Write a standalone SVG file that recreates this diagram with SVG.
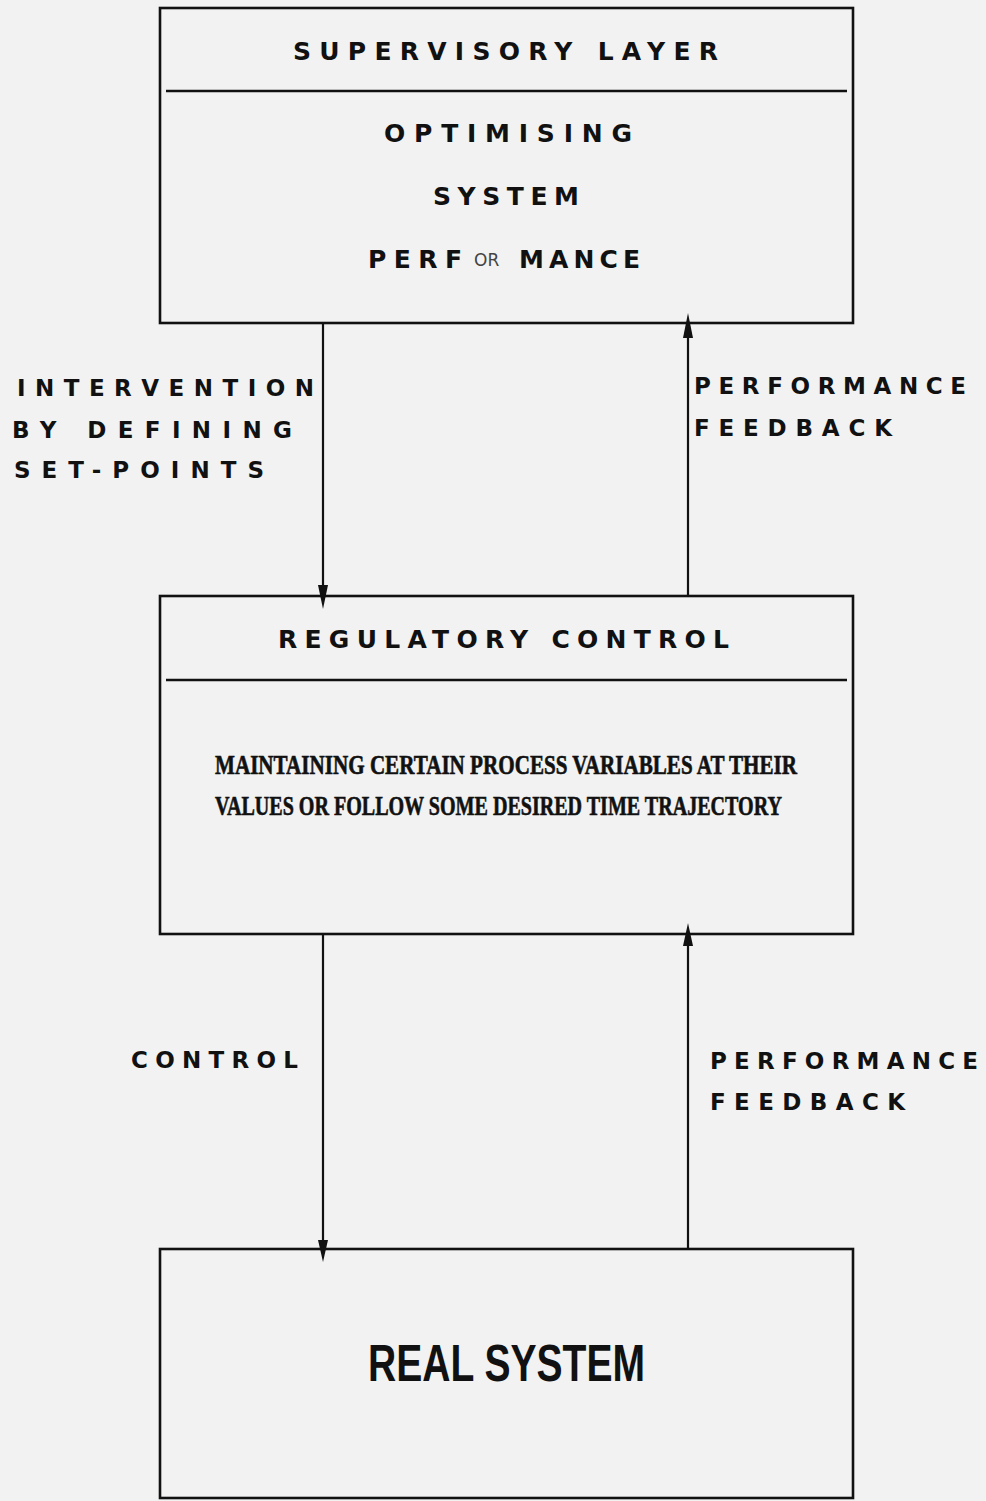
<svg xmlns="http://www.w3.org/2000/svg" width="986" height="1501" viewBox="0 0 986 1501">
<style>
.box{fill:none;stroke:#111;stroke-width:2.6}
.div{stroke:#111;stroke-width:2.6}
.con{stroke:#111;stroke-width:2.2;fill:none}
.head{fill:#111}
.mono{font-family:"DejaVu Sans","Liberation Sans",sans-serif;font-weight:bold;fill:#111}
.big{font-size:25px}
.sm{font-size:23px}
.desc{font-family:"Liberation Serif","DejaVu Serif",serif;font-weight:bold;font-size:27px;fill:#111;stroke:#111;stroke-width:0.6}
.real{font-family:"Liberation Sans","DejaVu Sans",sans-serif;font-weight:bold;font-size:52px;fill:#111}
.hand{font-family:"DejaVu Sans","Liberation Sans",sans-serif;font-weight:normal;font-size:17px;fill:#444}
</style>
<rect x="0" y="0" width="986" height="1501" fill="#f2f2f2"/>
<g id="supervisory">
<rect class="box" x="160" y="8" width="693" height="315"/>
<line class="div" x1="166" y1="91" x2="847" y2="91"/>
<text class="mono big" x="293" y="60" textLength="425" lengthAdjust="spacing">SUPERVISORY LAYER</text>
<text class="mono big" x="384" y="142" textLength="248" lengthAdjust="spacing">OPTIMISING</text>
<text class="mono big" x="433" y="205" textLength="146" lengthAdjust="spacing">SYSTEM</text>
<text class="mono big" x="368" y="268" textLength="94" lengthAdjust="spacing">PERF</text>
<text class="hand" x="474" y="266">OR</text>
<text class="mono big" x="519" y="268" textLength="121" lengthAdjust="spacing">MANCE</text>
</g>
<g id="regulatory">
<rect class="box" x="160" y="596" width="693" height="338"/>
<line class="div" x1="166" y1="680" x2="847" y2="680"/>
<text class="mono big" x="278" y="648" textLength="451" lengthAdjust="spacing">REGULATORY CONTROL</text>
<text class="desc" x="215" y="774" textLength="582" lengthAdjust="spacingAndGlyphs">MAINTAINING CERTAIN PROCESS VARIABLES AT THEIR</text>
<text class="desc" x="215" y="815" textLength="567" lengthAdjust="spacingAndGlyphs">VALUES OR FOLLOW SOME DESIRED TIME TRAJECTORY</text>
</g>
<g id="real">
<rect class="box" x="160" y="1249" width="693" height="249"/>
<text class="real" x="368" y="1381" textLength="277" lengthAdjust="spacingAndGlyphs">REAL SYSTEM</text>
</g>
<g id="connectors">
<line class="con" x1="323" y1="323" x2="323" y2="590"/>
<polygon class="head" points="318,585 328,585 323,609"/>
<line class="con" x1="688" y1="596" x2="688" y2="330"/>
<polygon class="head" points="683,338 693,338 688,313"/>
<line class="con" x1="323" y1="934" x2="323" y2="1245"/>
<polygon class="head" points="318,1240 328,1240 323,1262"/>
<line class="con" x1="688" y1="1249" x2="688" y2="940"/>
<polygon class="head" points="683,946 693,946 688,923"/>
</g>
<g id="labels">
<text class="mono sm" x="17" y="396" textLength="297" lengthAdjust="spacing">INTERVENTION</text>
<text class="mono sm" x="12" y="438" textLength="280" lengthAdjust="spacing">BY DEFINING</text>
<text class="mono sm" x="14" y="478" textLength="250" lengthAdjust="spacing">SET-POINTS</text>
<text class="mono sm" x="694" y="394" textLength="272" lengthAdjust="spacing">PERFORMANCE</text>
<text class="mono sm" x="694" y="436" textLength="198" lengthAdjust="spacing">FEEDBACK</text>
<text class="mono sm" x="131" y="1068" textLength="167" lengthAdjust="spacing">CONTROL</text>
<text class="mono sm" x="710" y="1069" textLength="268" lengthAdjust="spacing">PERFORMANCE</text>
<text class="mono sm" x="710" y="1110" textLength="195" lengthAdjust="spacing">FEEDBACK</text>
</g>
</svg>
